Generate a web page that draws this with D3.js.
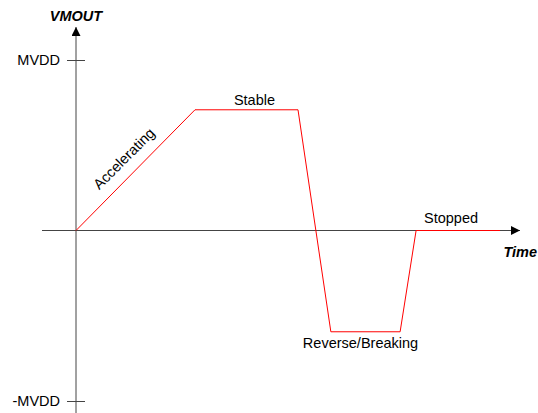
<!DOCTYPE html>
<html>
<head>
<meta charset="utf-8">
<script src="https://cdn.jsdelivr.net/npm/d3@7"></script>
<style>
body { margin: 0; background: #fff; }
text { font-family: "Liberation Sans", Arial, sans-serif; }
</style>
</head>
<body>
<svg id="chart"></svg>
<script>
WIDTH = 538;
HEIGHT = 413;

// motor output profile (time in arbitrary units, voltage as fraction of MVDD)
var times = [0, 2.68, 5.0, 5.74, 7.3, 7.66, 9.55];
var volts = [0, 0.708, 0.708, -0.594, -0.594, 0, 0];
var tickValues = [1, -1];
var tickLabels = ["MVDD", "-MVDD"];
var phases = ["Accelerating", "Stable", "Reverse/Breaking", "Stopped"];

function buildChart() {
    var svg = d3.select("#chart").attr("width", WIDTH).attr("height", HEIGHT);

    var x = d3.scaleLinear().domain([0, 10]).range([76, 520]);
    var y = d3.scaleLinear().domain([-1, 1]).range([401, 60]);

    var axisColor = "#444";
    var fs = 14.5;

    svg.append("defs").append("marker")
        .attr("id", "arrow")
        .attr("viewBox", "0 0 10 10")
        .attr("refX", 10).attr("refY", 5)
        .attr("markerWidth", 12).attr("markerHeight", 9)
        .attr("markerUnits", "userSpaceOnUse")
        .attr("orient", "auto")
        .append("path")
        .attr("d", "M0,0 L10,5 L0,10 Z")
        .attr("fill", "#000");

    // x axis
    svg.append("line")
        .attr("x1", 42).attr("x2", x(10))
        .attr("y1", y(0)).attr("y2", y(0))
        .attr("stroke", axisColor)
        .attr("marker-end", "url(#arrow)");

    // y axis
    svg.append("line")
        .attr("x1", x(0)).attr("x2", x(0))
        .attr("y1", HEIGHT).attr("y2", 27)
        .attr("stroke", axisColor)
        .attr("marker-end", "url(#arrow)");

    // ticks
    svg.selectAll(".tick")
        .data(tickValues)
        .enter().append("line")
        .attr("x1", x(0) - 9).attr("x2", x(0) + 9)
        .attr("y1", function(d) { return y(d) + 0.5; })
        .attr("y2", function(d) { return y(d) + 0.5; })
        .attr("stroke", axisColor);

    svg.selectAll(".tlabel")
        .data(tickValues)
        .enter().append("text")
        .attr("x", x(0) - 16)
        .attr("y", function(d) { return y(d) + 5; })
        .attr("text-anchor", "end")
        .attr("font-size", fs)
        .attr("fill", "#000")
        .text(function(d, i) { return tickLabels[i]; });

    svg.append("text")
        .attr("x", x(0)).attr("y", 21)
        .attr("text-anchor", "middle")
        .attr("font-size", fs)
        .attr("font-weight", "bold")
        .attr("font-style", "italic")
        .text("VMOUT");

    svg.append("text")
        .attr("x", 537).attr("y", 257)
        .attr("text-anchor", "end")
        .attr("font-size", fs)
        .attr("font-weight", "bold")
        .attr("font-style", "italic")
        .text("Time");

    // profile
    var pts = times.map(function(t, i) { return [t, volts[i]]; });
    svg.append("path")
        .datum(pts)
        .attr("fill", "none")
        .attr("stroke", "#ff0000")
        .attr("stroke-width", 1)
        .attr("d", d3.line()
            .x(function(d) { return x(d[0]); })
            .y(function(d) { return y(d[1]); }));

    // phase labels
    var midAcc = [(times[0] + times[1]) / 2, (volts[0] + volts[1]) / 2];
    svg.append("text")
        .attr("transform", "translate(" + (x(midAcc[0]) - 8) + "," + (y(midAcc[1]) - 8) + ") rotate(-45)")
        .attr("text-anchor", "middle")
        .attr("font-size", fs)
        .text(phases[0]);

    svg.append("text")
        .attr("x", x((times[1] + times[2]) / 2) + 8)
        .attr("y", y(volts[1]) - 5)
        .attr("text-anchor", "middle")
        .attr("font-size", fs)
        .text(phases[1]);

    svg.append("text")
        .attr("x", x((times[3] + times[4]) / 2) - 5)
        .attr("y", y(volts[3]) + 16)
        .attr("text-anchor", "middle")
        .attr("font-size", fs)
        .text(phases[2]);

    svg.append("text")
        .attr("x", x((times[5] + times[6]) / 2) - 7)
        .attr("y", y(0) - 8)
        .attr("text-anchor", "middle")
        .attr("font-size", fs)
        .text(phases[3]);
}

buildChart();
</script>
</body>
</html>
